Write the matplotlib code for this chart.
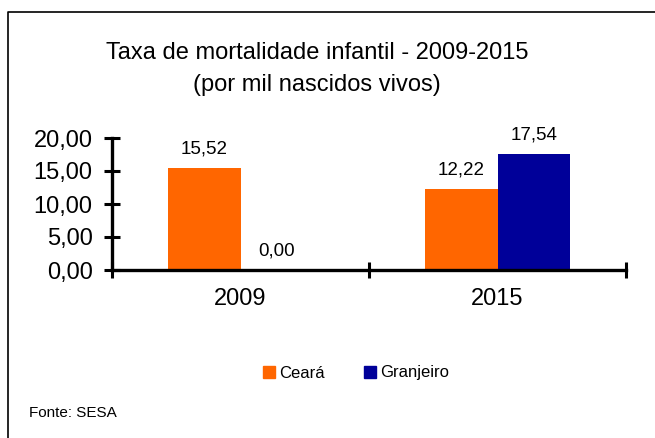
import matplotlib
matplotlib.use('Agg')
import numpy as np
import matplotlib.pyplot as plt
from matplotlib.lines import Line2D
from matplotlib.patches import Patch

plt.rcParams['font.family'] = ['Liberation Sans', 'DejaVu Sans']

anos = ['2009', '2015']
ceara = [15.52, 12.22]
granjeiro = [0.00, 17.54]
series = ['Ceará', 'Granjeiro']
cores = ['#FF6600', '#000099']
yticks = [0, 5, 10, 15, 20]

fig = plt.figure(figsize=(6.55, 4.38), dpi=100)
ax = fig.add_axes([112 / 655, 1 - 270 / 438, (626 - 112) / 655, (270 - 138) / 438])

centros = np.arange(len(anos)) + 0.5
w = 0.284
b1 = ax.bar(centros - w / 2, ceara, w, color=cores[0], label=series[0])
b2 = ax.bar(centros + w / 2, granjeiro, w, color=cores[1], label=series[1])

def fmt(v):
    return f'{v:.2f}'.replace('.', ',')

for bars, vals in [(b1, ceara), (b2, granjeiro)]:
    for rect, v in zip(bars, vals):
        ax.text(rect.get_x() + rect.get_width() / 2, v + 1.6, fmt(v),
                ha='center', va='bottom', fontsize=13.5)

ax.set_xlim(0, len(anos))
ax.set_ylim(0, 20)
ax.set_yticks(yticks)
ax.set_yticklabels([fmt(v) for v in yticks], fontsize=17)
ax.set_xticks(centros)
ax.set_xticklabels(anos, fontsize=17)
ax.set_xticks(np.arange(len(anos) + 1), minor=True)
ax.tick_params(axis='x', which='major', length=0, pad=13)
ax.tick_params(axis='x', which='minor', direction='inout', length=12, width=2.2)
ax.tick_params(axis='y', direction='inout', length=12, width=2.2, pad=8)
for s in ['top', 'right']:
    ax.spines[s].set_visible(False)
for s in ['left', 'bottom']:
    ax.spines[s].set_linewidth(2.4)

fig.text(317 / 655, 1 - 53 / 438, 'Taxa de mortalidade infantil - 2009-2015',
         ha='center', va='center', fontsize=17)
fig.text(317 / 655, 1 - 85 / 438, '(por mil nascidos vivos)',
         ha='center', va='center', fontsize=17)

handles = [Patch(color=c, label=s) for c, s in zip(cores, series)]
fig.legend(handles=handles, loc='center', bbox_to_anchor=(356 / 655, 1 - 373 / 438),
           ncol=2, frameon=False, fontsize=12, handlelength=0.7, handleheight=0.7,
           handletextpad=0.25, columnspacing=2.4)

fig.text(29 / 655, 1 - 413 / 438, 'Fonte: SESA', ha='left', va='center', fontsize=11)

# moldura (cortada à direita e embaixo)
fig.add_artist(Line2D([8 / 655, 8 / 655, 1], [0, 1 - 12 / 438, 1 - 12 / 438],
                      color='black', lw=1.2, transform=fig.transFigure))

fig.savefig('out.png', dpi=100)
